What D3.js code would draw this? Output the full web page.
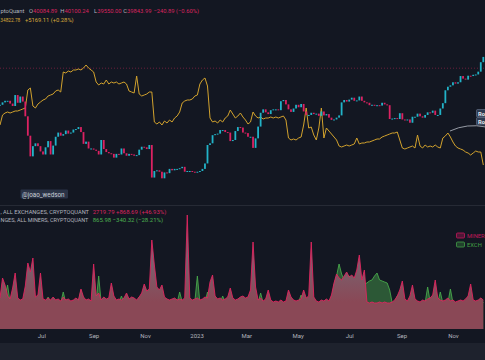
<!DOCTYPE html>
<html><head><meta charset="utf-8">
<script src="https://cdn.jsdelivr.net/npm/d3@7"></script>
<style>html,body{margin:0;padding:0;background:#131722;overflow:hidden}svg{display:block}</style>
</head><body><svg id="c" width="485" height="360"></svg>
<script>
// ---- data ----
const startDate = "2022-05-13", endDate = "2023-12-09", stepDays = 3;
// BTC close (thousand USD), one value every 3 days
const btcClose = [
29.3,29.9,30.3,30.3,29.6,29.0,31.8,29.8,31.4,30.1,
26.6,22.6,19.0,20.7,21.2,20.7,19.8,19.3,20.5,21.6,
19.3,20.8,22.4,23.2,22.6,22.9,23.6,23.0,23.2,23.8,
23.9,24.3,23.3,21.1,21.5,20.3,20.3,20.1,19.9,19.3,
21.8,20.2,19.7,19.5,19.4,18.8,19.4,19.3,20.3,19.5,
19.1,19.4,19.3,19.1,19.2,20.1,20.6,20.5,20.2,20.9,
15.9,16.8,16.9,16.7,15.8,16.6,16.5,17.1,16.9,17.1,
17.1,17.2,17.4,16.7,16.8,16.8,16.7,16.6,16.7,16.8,
17.1,17.9,20.9,21.2,22.7,22.9,23.0,23.7,23.7,23.3,
23.2,21.6,21.8,23.5,24.3,24.2,23.2,23.1,22.4,22.4,
20.4,22.1,24.4,27.4,28.2,27.5,27.1,28.0,28.2,28.2,
28.0,30.2,30.5,29.4,28.2,27.6,28.4,29.3,28.7,29.5,
27.7,26.9,26.9,27.4,27.1,27.2,26.7,27.7,26.8,27.1,
26.3,25.8,25.9,26.3,26.8,29.9,30.5,30.1,30.6,31.1,
30.3,30.4,31.4,30.3,29.9,29.8,29.2,29.3,29.2,29.2,
29.1,29.8,29.4,29.2,26.0,26.1,26.2,26.0,27.3,25.9,
25.8,25.9,25.2,26.5,26.5,27.2,26.6,26.3,26.9,27.5,
27.4,27.9,26.9,26.9,28.4,29.7,33.1,34.1,34.5,35.4,
35.0,35.4,37.3,36.5,36.2,37.4,37.3,37.7,37.8,38.7,
41.9,43.8];
// Miner reserve (thousand BTC)
const minerReserve = [
1850.8,1854.8,1855.6,1856.0,1855.6,1856.0,1856.4,1856.4,1856.8,1857.2,
1857.6,1864.8,1865.6,1858.4,1857.6,1859.2,1860.0,1860.8,1861.2,1862.4,
1862.8,1863.2,1864.4,1864.8,1864.0,1872.0,1871.6,1872.4,1872.0,1872.8,
1872.8,1873.2,1872.8,1873.6,1874.8,1873.6,1872.8,1872.0,1868.0,1866.8,
1867.6,1867.2,1868.8,1867.2,1868.0,1867.6,1868.0,1867.2,1867.6,1868.0,
1867.2,1864.4,1864.0,1863.6,1870.4,1863.2,1862.4,1862.8,1863.2,1864.0,
1864.0,1852.0,1851.2,1852.0,1850.8,1852.4,1851.6,1852.8,1852.0,1853.6,
1854.4,1856.0,1859.6,1860.4,1860.8,1860.8,1861.2,1862.4,1862.8,1867.2,
1868.8,1869.6,1866.4,1853.6,1852.0,1852.4,1851.6,1852.8,1852.0,1853.6,
1854.4,1856.8,1855.2,1853.6,1854.4,1855.6,1854.0,1852.8,1851.2,1852.0,
1856.0,1854.4,1853.6,1854.0,1853.2,1853.6,1853.6,1854.0,1853.6,1854.0,
1853.6,1854.0,1854.4,1852.8,1845.6,1844.8,1845.2,1844.8,1845.6,1846.0,
1850.8,1857.6,1849.6,1850.0,1846.8,1844.8,1849.6,1857.6,1845.6,1849.6,
1848.4,1847.2,1846.0,1844.8,1842.4,1842.0,1842.4,1842.8,1842.4,1842.8,
1843.2,1845.6,1843.2,1843.6,1843.6,1844.0,1844.0,1844.4,1844.8,1845.2,
1845.2,1846.0,1846.4,1846.8,1847.2,1847.6,1847.6,1848.0,1844.8,1841.6,
1841.2,1841.6,1842.0,1842.4,1841.6,1846.8,1842.4,1841.6,1842.8,1842.0,
1842.4,1842.0,1842.8,1842.0,1841.6,1845.6,1846.4,1847.6,1846.0,1844.0,
1842.4,1841.6,1841.2,1840.8,1840.0,1839.6,1838.8,1839.6,1840.4,1840.0,
1840.0,1834.8];
// Miners -> exchanges flow
const minerToExch = [
3100,5100,4400,3300,3000,4100,5600,3100,2900,3000,
4300,6600,5700,7100,3200,3400,5600,3000,2900,3100,
2900,3200,2900,3000,2800,3200,2900,3000,2800,2900,
3100,2900,4000,3200,2900,3000,2800,6500,3300,3600,
2900,3200,3000,3100,4600,3300,2900,3000,2900,3100,
3600,3000,3200,3100,2900,3200,3600,4500,3800,4000,
8900,6400,4200,3900,4400,3200,3000,2900,3000,3100,
2900,3000,2900,3100,11400,3100,2900,3000,3100,2900,
3000,3200,3100,4700,5400,3300,3000,3100,2900,3000,
3200,4100,3100,2900,3000,3200,3300,3100,3200,3900,
8700,4200,2900,3100,2800,3000,3900,2900,2700,2800,
2700,2900,2700,2800,3900,3200,2900,2800,2900,3000,
3900,3100,3300,8700,3200,2800,2700,2900,2800,3000,
2800,3400,4600,5500,5100,4900,5300,5700,5200,5400,
5100,5900,7400,4900,5900,2700,2600,2700,2600,2600,
2700,2600,2700,2600,2600,2700,2900,3300,3900,4800,
3000,2800,3300,4400,3000,2800,2700,2900,2800,3000,
3100,3400,4900,3100,2900,2800,2900,3100,2800,2900,
2700,2800,2900,2800,3000,3300,4500,2900,2800,2900,
3100,2900];
// Exchanges -> miners flow
const exchToMiner = [
2500,2600,3300,4400,2600,2500,2700,2600,2500,2600,
2600,2700,2600,2800,2500,2600,2700,2500,2600,3200,
2600,2500,2700,2600,2600,3700,2600,2500,2600,2700,
2600,2700,3900,2600,2500,2600,2700,2800,2700,5300,
2600,2700,2600,2500,2700,2600,2500,2600,3300,2600,
2500,2600,2700,2600,2500,3200,2700,2800,3400,3600,
3700,4100,3300,2800,2700,2600,2500,2600,2700,2600,
2600,3700,2700,2600,2800,2600,2500,2700,5300,2600,
2700,2600,3700,2800,2700,2600,2500,2600,3300,2600,
2700,2600,2500,2600,2700,2600,2500,2600,2700,2600,
2800,2700,2600,3600,2600,2500,2600,2700,2500,2600,
2500,2600,2500,2600,2700,2600,2500,2600,2700,3400,
2700,2600,2600,2700,2600,2500,2600,2500,2600,2500,
2600,2800,4400,5300,6500,5500,4900,5100,5300,4900,
5100,5300,4900,4700,4500,4600,4800,4900,5300,5600,
4900,4800,4700,4600,3900,2600,2700,3300,2700,2600,
2600,2700,2600,2700,2600,2500,2600,2700,2600,4200,
2700,2600,2700,2600,3700,2600,2500,2600,4000,2600,
2500,2600,2700,2600,2500,2600,2700,2600,2500,2600,
3100,2600];
const tickDates = ["2022-07-01","2022-09-01","2022-11-01","2023-01-01","2023-03-01","2023-05-01","2023-07-01","2023-09-01","2023-11-01"];
const tickLabels = ["Jul","Sep","Nov","2023","Mar","May","Jul","Sep","Nov"];
const ohlcLabels = ["O","H","L","C"];
const ohlcValues = ["40084.89","40100.24","39550.00","39843.99"];
const lastClose = 39.84399;

// ---- setup ----
const W = 485, H = 360;
const parse = d3.utcParse("%Y-%m-%d");
const t0 = parse(startDate);
const dates = btcClose.map((_, i) => d3.utcDay.offset(t0, i * stepDays));
const svg = d3.select("#c");
const FONT = "Roboto, 'Liberation Sans', sans-serif";

svg.append("rect").attr("width", W).attr("height", H).attr("fill", "#131722");
svg.append("rect").attr("x", 0).attr("y", 343).attr("width", W).attr("height", 17).attr("fill", "#1e222d");
svg.append("line").attr("x1", 0).attr("x2", W).attr("y1", 205.5).attr("y2", 205.5).attr("stroke", "#262a35");

const x = d3.scaleUtc().domain([t0, parse(endDate)]).range([0, W]);
const yP = d3.scaleLog().domain([15, 45]).range([184.5, 53.7]);
const yR = d3.scaleLinear().domain([1830.8, 1874.8]).range([175, 65]);
const yF = d3.scaleLinear().domain([0, 12000]).range([329, 209]);

const defs = svg.append("defs");
defs.append("clipPath").attr("id", "cpTop").append("rect").attr("x", 0).attr("y", 0).attr("width", W).attr("height", 205);
defs.append("clipPath").attr("id", "cpBot").append("rect").attr("x", 0).attr("y", 206).attr("width", W).attr("height", 123);
const grad = defs.append("linearGradient").attr("id", "pinkFill").attr("gradientUnits", "userSpaceOnUse")
  .attr("x1", 0).attr("x2", 0).attr("y1", 255).attr("y2", 302);
grad.append("stop").attr("offset", 0).attr("stop-color", "#776572");
grad.append("stop").attr("offset", 1).attr("stop-color", "#8a4856");

// ---- top pane ----
const topG = svg.append("g").attr("clip-path", "url(#cpTop)");
topG.append("line").attr("x1", 0).attr("x2", W).attr("y1", yP(lastClose)).attr("y2", yP(lastClose))
  .attr("stroke", "#6b1f3c").attr("stroke-dasharray", "1,2").attr("stroke-width", 1);

topG.append("path").datum(minerReserve)
  .attr("d", d3.line().x((d, i) => x(dates[i])).y(d => yR(d)))
  .attr("fill", "none").attr("stroke", "#d2a22d").attr("stroke-width", 1);

topG.selectAll("rect.c").data(btcClose).join("rect").attr("class", "c")
  .each(function (c, i) {
    const o = i ? btcClose[i - 1] : c;
    const y1 = yP(Math.max(o, c)), y2 = yP(Math.min(o, c));
    d3.select(this).attr("x", x(dates[i]) - 0.9).attr("width", 1.8)
      .attr("y", y1).attr("height", Math.max(1, y2 - y1))
      .attr("fill", c >= o ? "#22b3c8" : "#dc2262");
  });

// arc annotation and labels
topG.append("path").attr("d", "M450,131 Q467,123 486,127").attr("fill", "none").attr("stroke", "#b8bcc6").attr("stroke-width", 0.8);
[109.5, 117.5].forEach(yy => {
  topG.append("rect").attr("x", 476.5).attr("y", yy).attr("width", 12).attr("height", 7.5).attr("rx", 1)
    .attr("fill", "#2c3a52").attr("stroke", "#7f8ba0").attr("stroke-width", 0.5);
  topG.append("text").attr("x", 478).attr("y", yy + 6).attr("font-family", FONT).attr("font-size", 5.8)
    .attr("font-weight", "bold").attr("fill", "#e8eaf0").text("Ro");
});

// watermark
svg.append("rect").attr("x", 20.5).attr("y", 189.5).attr("width", 47.5).attr("height", 9).attr("rx", 1).attr("fill", "#2a3346");
svg.append("text").attr("x", 22).attr("y", 196.8).attr("font-family", FONT).attr("font-size", 6.3).attr("fill", "#c9cdd6").text("@joao_wedson");

// header
const hdr = svg.append("g").attr("font-family", FONT).attr("font-size", 5.8);
hdr.append("text").attr("x", 0.5).attr("y", 13.3).attr("fill", "#b2b5be").text("ptoQuant");
const ohlcX = [29, 60.3, 94, 123.3];
ohlcLabels.forEach((l, i) => {
  const t = hdr.append("text").attr("x", ohlcX[i]).attr("y", 13.3).attr("fill", "#b2b5be");
  t.append("tspan").text(l);
  t.append("tspan").attr("fill", "#d9245f").text(ohlcValues[i]);
});
hdr.append("text").attr("x", 153.5).attr("y", 13.3).attr("fill", "#d9245f").text("−240.89 (−0.60%)");
hdr.append("text").attr("x", 0.3).attr("y", 22).attr("fill", "#d8a93a")
  .attr("textLength", 20).attr("lengthAdjust", "spacingAndGlyphs").text("34822.78");
hdr.append("text").attr("x", 25).attr("y", 22).attr("fill", "#d8a93a").text("+5169.11 (+0.28%)");

// ---- bottom pane ----
const botG = svg.append("g").attr("clip-path", "url(#cpBot)");
const areaOf = arr => d3.area().x((d, i) => x(dates[i])).y0(329).y1(d => yF(d))(arr);
const lineOf = arr => d3.line().x((d, i) => x(dates[i])).y(d => yF(d))(arr);
botG.append("path").attr("d", areaOf(exchToMiner)).attr("fill", "#2c5836");
botG.append("path").attr("d", lineOf(exchToMiner)).attr("fill", "none").attr("stroke", "#47a84b").attr("stroke-width", 0.9);
botG.append("path").attr("d", areaOf(minerToExch)).attr("fill", "url(#pinkFill)");
botG.append("path").attr("d", lineOf(minerToExch)).attr("fill", "none").attr("stroke", "#e0245e").attr("stroke-width", 0.9);

// legends
const lg = svg.append("g").attr("font-family", FONT).attr("font-size", 6);
lg.append("text").attr("x", 0.5).attr("y", 214).attr("fill", "#b2b5be")
  .attr("textLength", 88.5).attr("lengthAdjust", "spacingAndGlyphs").text(", ALL EXCHANGES, CRYPTOQUANT");
lg.append("text").attr("x", 92.7).attr("y", 214).attr("fill", "#d9245f").text("2719.79 +868.69 (+46.93%)");
lg.append("text").attr("x", 0.5).attr("y", 222.3).attr("fill", "#b2b5be")
  .attr("textLength", 87.8).attr("lengthAdjust", "spacingAndGlyphs").text("NGES, ALL MINERS, CRYPTOQUANT");
lg.append("text").attr("x", 92.7).attr("y", 222.3).attr("fill", "#4caf50").text("865.98 −340.32 (−28.21%)");

lg.append("rect").attr("x", 456.5).attr("y", 233).attr("width", 8).attr("height", 5).attr("rx", 1)
  .attr("fill", "rgba(194,24,91,0.35)").attr("stroke", "#c2185b").attr("stroke-width", 0.8);
lg.append("text").attr("x", 467).attr("y", 238.3).attr("font-size", 5.8).attr("fill", "#c2185b").text("MINER");
lg.append("rect").attr("x", 456.5).attr("y", 242).attr("width", 8).attr("height", 5).attr("rx", 1)
  .attr("fill", "rgba(67,160,71,0.3)").attr("stroke", "#43a047").attr("stroke-width", 0.8);
lg.append("text").attr("x", 467).attr("y", 247.3).attr("font-size", 5.8).attr("fill", "#43a047").text("EXCH");

// x axis
const ax = svg.append("g").attr("transform", "translate(0,329)")
  .call(d3.axisBottom(x).tickValues(tickDates.map(parse)).tickFormat((d, i) => tickLabels[i]).tickSize(0).tickPadding(5));
ax.select(".domain").remove();
ax.selectAll("text").attr("font-family", FONT).attr("font-size", 6).attr("fill", "#b2b5be");
</script></body></html>
